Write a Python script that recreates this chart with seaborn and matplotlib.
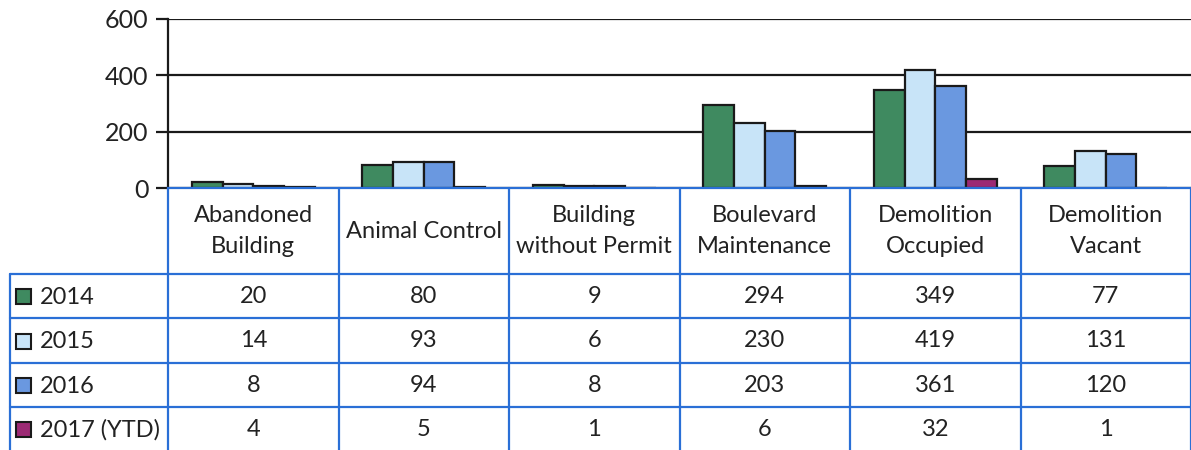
import matplotlib
matplotlib.use("Agg")
import matplotlib.pyplot as plt
import seaborn as sns
import pandas as pd
from matplotlib.patches import Rectangle

categories = ["Abandoned Building", "Animal Control", "Building without Permit",
              "Boulevard Maintenance", "Demolition Occupied", "Demolition Vacant"]
header_labels = ["Abandoned\nBuilding", "Animal Control", "Building\nwithout Permit",
                 "Boulevard\nMaintenance", "Demolition\nOccupied", "Demolition\nVacant"]
years = ["2014", "2015", "2016", "2017 (YTD)"]
v2014 = [20, 80, 9, 294, 349, 77]
v2015 = [14, 93, 6, 230, 419, 131]
v2016 = [8, 94, 8, 203, 361, 120]
v2017 = [4, 5, 1, 6, 32, 1]
colors = ["#3f8a60", "#c8e4f8", "#6a98e0", "#9c2a74"]
yticks = [0, 200, 400, 600]

series = [v2014, v2015, v2016, v2017]
rows = []
for yr, vals in zip(years, series):
    for cat, v in zip(categories, vals):
        rows.append({"category": cat, "year": yr, "value": v})
df = pd.DataFrame(rows)

sns.set_style("white")
plt.rcParams["font.family"] = ["Lato", "DejaVu Sans"]

W, H = 1191, 450
fig = plt.figure(figsize=(W / 100, H / 100), dpi=100)

# bar chart area
ax = fig.add_axes([168 / W, 1 - 188 / H, (W - 168) / W, (188 - 19) / H])
sns.barplot(data=df, x="category", y="value", hue="year", order=categories,
            hue_order=years, palette=colors, width=0.72, edgecolor="#1a1a1a",
            linewidth=1.6, legend=False, ax=ax, saturation=1)
ax.set_xlim(-0.5, len(categories) - 0.5)
ax.set_ylim(0, 600)
ax.set_yticks(yticks)
ax.set_yticklabels([str(t) for t in yticks], fontsize=18, color="#222222")
ax.set_xticks([])
ax.set_xlabel("")
ax.set_ylabel("")
ax.set_axisbelow(True)
ax.yaxis.grid(True, color="#1a1a1a", linewidth=1.6)
ax.tick_params(axis="y", length=9, width=1.6, color="#1a1a1a", pad=5, left=True)
for s in ["top", "right"]:
    ax.spines[s].set_visible(False)
ax.spines["left"].set_color("#1a1a1a")
ax.spines["left"].set_linewidth(1.6)
ax.spines["bottom"].set_color("#2a6fd6")
ax.spines["bottom"].set_linewidth(1.6)

# data table below (axes in pixel units, y downwards)
tax = fig.add_axes([0, 0, 1, (H - 188) / H])
tax.set_xlim(0, W)
tax.set_ylim(H, 188)
tax.axis("off")
blue = "#2a6fd6"
col_edges = [168 + i * (W - 168) / len(categories) for i in range(len(categories) + 1)]
row_edges = [274, 318, 363, 407, 451]

for x in col_edges:
    tax.plot([x, x], [188, 451], color=blue, lw=1.6, clip_on=False)
tax.plot([10, 10], [274, 451], color=blue, lw=1.6, clip_on=False)
for y in row_edges:
    tax.plot([10, W], [y, y], color=blue, lw=1.6, clip_on=False)

for i, lab in enumerate(header_labels):
    cx = (col_edges[i] + col_edges[i + 1]) / 2
    tax.text(cx, 231, lab, ha="center", va="center", fontsize=17,
             color="#222222", linespacing=1.55)

for r, (yr, vals, c) in enumerate(zip(years, series, colors)):
    cy = (row_edges[r] + row_edges[r + 1]) / 2
    tax.add_patch(Rectangle((16, cy - 7), 15, 15, facecolor=c,
                            edgecolor="#1a1a1a", lw=1.5))
    tax.text(40, cy + 1, yr, ha="left", va="center", fontsize=17, color="#222222")
    for i, v in enumerate(vals):
        cx = (col_edges[i] + col_edges[i + 1]) / 2
        tax.text(cx, cy, str(v), ha="center", va="center", fontsize=17, color="#222222")

fig.savefig("out.png", dpi=100)
